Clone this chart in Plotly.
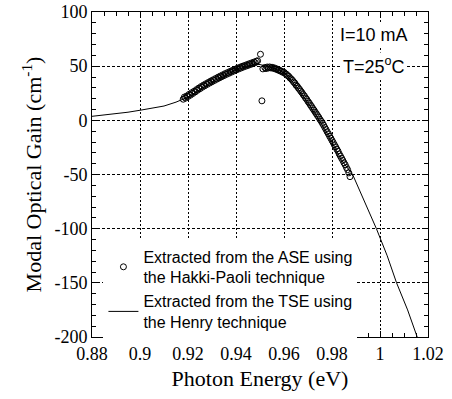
import plotly.graph_objects as go

# ASE (Hakki-Paoli) extracted gain points
ase_x = [0.918, 0.9185, 0.919, 0.9195, 0.920, 0.9205, 0.921, 0.9215, 0.922, 0.9225,
         0.923, 0.9235, 0.924, 0.9245, 0.925, 0.9255, 0.926, 0.9265, 0.927, 0.9275,
         0.928, 0.9285, 0.929, 0.9295, 0.930, 0.9305, 0.931, 0.9315, 0.932, 0.9325,
         0.933, 0.9335, 0.934, 0.9345, 0.935, 0.9355, 0.936, 0.9365, 0.937, 0.9375,
         0.938, 0.9385, 0.939, 0.9395, 0.940, 0.9405, 0.941, 0.9415, 0.942, 0.9425,
         0.943, 0.9435, 0.944, 0.9445, 0.945, 0.9455, 0.946, 0.9465, 0.947, 0.9475,
         0.948, 0.9485, 0.949, 0.9502, 0.9508,
         0.9512, 0.952, 0.9525, 0.953, 0.9535, 0.954, 0.9545, 0.955, 0.9555, 0.956,
         0.9565, 0.957, 0.9575, 0.958, 0.9585, 0.959, 0.9595, 0.960, 0.9605, 0.961,
         0.9615, 0.962, 0.9625, 0.963, 0.9635, 0.964, 0.9645, 0.965, 0.9655, 0.966,
         0.9665, 0.967, 0.9675, 0.968, 0.9685, 0.969, 0.9695, 0.970, 0.9705, 0.971,
         0.9715, 0.972, 0.9725, 0.973, 0.9735, 0.974, 0.9745, 0.975, 0.9755, 0.976,
         0.9765, 0.977, 0.9775, 0.978, 0.9785, 0.979, 0.9795, 0.980, 0.9805, 0.981,
         0.9815, 0.982, 0.9825, 0.983, 0.9835, 0.984, 0.9845, 0.985, 0.9855, 0.986,
         0.9865, 0.987, 0.9875]
ase_y = [19.5, 21.5, 20.5, 22.5, 22.0, 24.0, 23.2, 25.5, 24.8, 26.8,
         26.2, 28.3, 27.8, 29.8, 29.2, 31.2, 30.6, 32.6, 31.9, 33.8,
         33.2, 35.0, 34.4, 36.3, 35.6, 37.4, 36.8, 38.6, 38.0, 39.8,
         39.1, 40.9, 40.2, 42.0, 41.3, 43.1, 42.4, 44.1, 43.4, 45.1,
         44.4, 46.1, 45.4, 47.0, 46.4, 48.0, 47.3, 48.9, 48.2, 49.8,
         49.1, 50.6, 49.9, 51.4, 50.7, 52.2, 51.5, 53.0, 52.3, 53.8,
         53.2, 54.6, 55.0, 61.0, 18.0,
         47.5, 48.8, 47.8, 49.2, 48.3, 49.3, 48.4, 49.0, 48.0, 48.4,
         47.3, 47.5, 46.4, 46.5, 45.4, 45.4, 44.3, 44.4, 43.2, 42.6,
         41.3, 40.6, 39.1, 38.2, 37.0, 35.4, 34.4, 32.5, 31.5, 29.8,
         28.5, 26.9, 25.5, 23.8, 22.5, 20.6, 19.3, 17.4, 16.0, 14.2,
         12.7, 10.9, 9.4, 7.6, 6.0, 4.3, 2.7, 0.8, -0.8, -2.7,
         -4.5, -6.6, -8.5, -10.6, -12.5, -14.6, -16.5, -18.6, -20.5, -22.6,
         -24.5, -26.6, -28.5, -31.0, -33.0, -35.0, -37.0, -39.2, -41.0, -43.5,
         -45.5, -48.5, -52.0]

# TSE (Henry) extracted gain curve
tse_x = [0.880, 0.885, 0.890, 0.895, 0.900, 0.905, 0.910, 0.915, 0.920, 0.925,
         0.930, 0.935, 0.940, 0.945, 0.948, 0.950, 0.952, 0.955, 0.958, 0.960,
         0.963, 0.966, 0.970, 0.973, 0.976, 0.980, 0.984, 0.9886, 0.9935, 0.9985,
         1.003, 1.0069, 1.0115, 1.0155]
tse_y = [3.7, 4.8, 6.0, 7.5, 9.3, 11.0, 13.2, 16.8, 21.5, 28.5,
         35.5, 41.5, 46.5, 50.0, 51.5, 51.5, 50.5, 48.5, 46.0, 44.0,
         37.0, 28.5, 16.0, 6.0, -4.5, -20.5, -37.0, -50.0, -75.0, -100.0,
         -125.0, -150.0, -175.0, -200.0]

x_ticks = [0.88, 0.90, 0.92, 0.94, 0.96, 0.98, 1.00, 1.02]
x_labels = ["0.88", "0.9", "0.92", "0.94", "0.96", "0.98", "1", "1.02"]
y_ticks = [-200, -150, -100, -50, 0, 50, 100]
y_labels = ["-200", "-150", "-100", "-50", "0", "50", "100"]

serif = "Liberation Serif"
sans = "Liberation Sans"

fig = go.Figure()
fig.add_trace(go.Scatter(
    x=ase_x, y=ase_y, mode="markers",
    name="Extracted from the ASE using<br>the Hakki-Paoli technique",
    marker=dict(symbol="circle-open", size=6, color="black", line=dict(width=1, color="black")),
))
fig.add_trace(go.Scatter(
    x=tse_x, y=tse_y, mode="lines",
    name="Extracted from the TSE using<br>the Henry technique",
    line=dict(color="black", width=1),
))

axis_common = dict(
    showline=True, linecolor="black", linewidth=1, mirror="allticks",
    ticks="inside", ticklen=6, tickcolor="black", tickwidth=1,
    showgrid=True, gridcolor="black", gridwidth=1,
    zeroline=False, automargin=False,
    tickfont=dict(family=serif, size=18, color="black"),
)

fig.update_xaxes(
    range=[0.88, 1.02], tickvals=x_ticks, ticktext=x_labels,
    griddash="2px,2px",
    minor=dict(dtick=0.005, tick0=0.88, ticks="inside", ticklen=4, tickcolor="black", showgrid=False),
    title=dict(text="Photon Energy (eV)", font=dict(family=serif, size=22, color="black"), standoff=8),
    **axis_common,
)
fig.update_yaxes(
    range=[-200, 100], tickvals=y_ticks, ticktext=y_labels,
    griddash="3px,2px",
    minor=dict(dtick=10, tick0=0, ticks="inside", ticklen=4, tickcolor="black", showgrid=False),
    title=dict(text="Modal Optical Gain (cm<sup>-1</sup>)", font=dict(family=serif, size=22, color="black"), standoff=6),
    **axis_common,
)

fig.update_layout(
    width=452, height=399,
    margin=dict(l=92, r=24, t=12, b=62),
    plot_bgcolor="white", paper_bgcolor="white",
    legend=dict(
        x=0.034, y=0.30, xanchor="left", yanchor="top",
        bgcolor="white", borderwidth=0,
        font=dict(family=sans, size=16, color="black"),
    ),
    annotations=[
        dict(text="I=10 mA", xref="paper", yref="paper", x=0.839, y=0.928,
             xanchor="center", yanchor="middle",
             showarrow=False, font=dict(family=sans, size=18, color="black"), bgcolor="white"),
        dict(text="T=25<sup>o</sup>C", xref="paper", yref="paper", x=0.839, y=0.836,
             xanchor="center", yanchor="middle",
             showarrow=False, font=dict(family=sans, size=18, color="black"), bgcolor="white"),
    ],
)

fig.write_html("out.html", config={"displayModeBar": False},
               post_script="document.body.style.margin='0';")
